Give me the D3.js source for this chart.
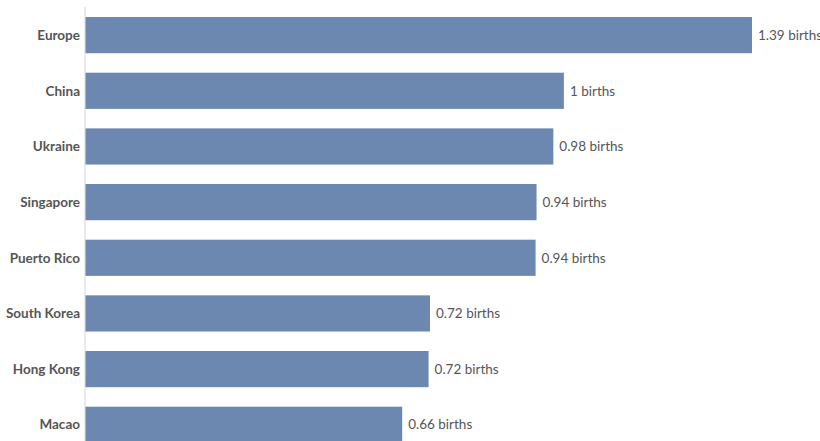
<!DOCTYPE html>
<html>
<head>
<meta charset="utf-8">
<script src="https://cdn.jsdelivr.net/npm/d3@7"></script>
<style>
  body { margin: 0; background: #fff; }
  svg { display: block; }
</style>
</head>
<body>
<div id="chart"></div>
<script>
// data
var countries = ["Europe", "China", "Ukraine", "Singapore", "Puerto Rico", "South Korea", "Hong Kong", "Macao"];
var births = [1.39, 0.998, 0.976, 0.941, 0.939, 0.719, 0.716, 0.661];
var unitLabel = "births";

var width = 820, height = 441;
var axisX = 85;

var svg = d3.select("#chart").append("svg")
    .attr("width", width)
    .attr("height", height);

var x = d3.scaleLinear()
    .domain([0, d3.max(births)])
    .range([axisX, 752]);

var y = d3.scaleBand()
    .domain(countries)
    .range([7.3, 452.6])
    .paddingInner(0.35)
    .paddingOuter(0.175);

var fmt = d3.format(".2~f");

// left axis line
svg.append("line")
    .attr("x1", axisX).attr("x2", axisX)
    .attr("y1", 7).attr("y2", height)
    .attr("stroke", "#e3e3e3")
    .attr("stroke-width", 1.5);

var rows = svg.selectAll(".row")
    .data(countries)
    .enter().append("g")
    .attr("class", "row");

rows.append("rect")
    .attr("x", x(0) + 0.5)
    .attr("y", function(d) { return y(d); })
    .attr("width", function(d, i) { return x(births[i]) - x(0) - 0.5; })
    .attr("height", y.bandwidth())
    .attr("fill", "#6c88b1");

rows.append("text")
    .attr("x", axisX - 5)
    .attr("y", function(d) { return y(d) + y.bandwidth() / 2; })
    .attr("dy", "0.35em")
    .style("text-anchor", "end")
    .style("font-family", "Lato")
    .style("font-weight", "bold")
    .style("font-size", "13.5px")
    .attr("fill", "#555")
    .text(function(d) { return d; });

rows.append("text")
    .attr("x", function(d, i) { return x(births[i]) + 6; })
    .attr("y", function(d) { return y(d) + y.bandwidth() / 2; })
    .attr("dy", "0.35em")
    .style("font-family", "Lato")
    .style("font-size", "13.5px")
    .attr("fill", "#555")
    .text(function(d, i) { return fmt(births[i]) + " " + unitLabel; });
</script>
</body>
</html>
